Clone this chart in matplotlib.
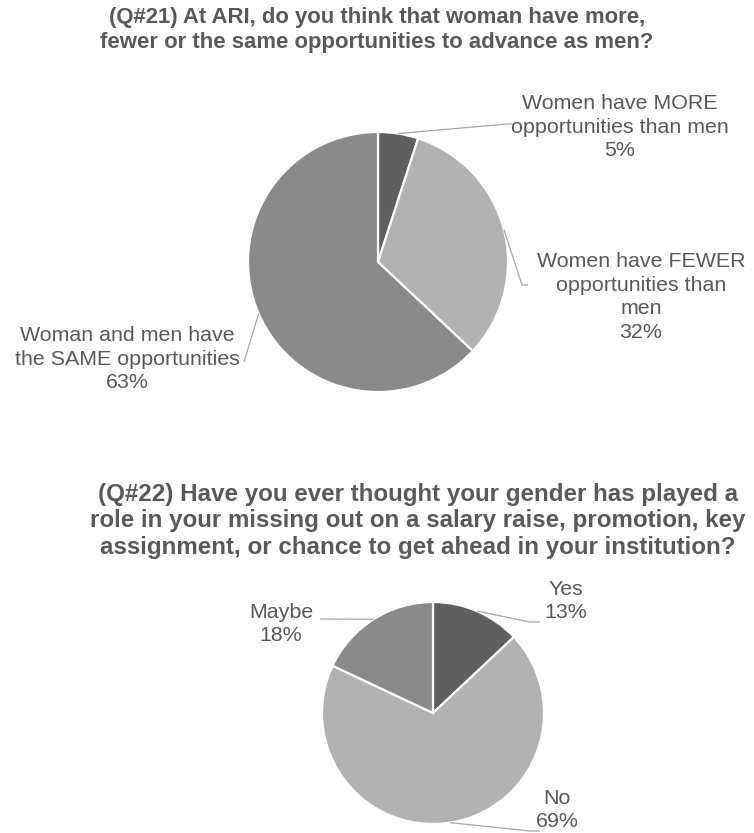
import numpy as np
import matplotlib
matplotlib.use("Agg")
import matplotlib.pyplot as plt

W, H = 754, 833

# Q21: share of answers, drawn clockwise from 12 o'clock
q21_labels = [
    "Women have MORE\nopportunities than men",
    "Women have FEWER\nopportunities than\nmen",
    "Woman and men have\nthe SAME opportunities",
]
q21_values = [5, 32, 63]
q21_colors = ["#5f5f5f", "#b2b2b2", "#8a8a8a"]

# Q22
q22_labels = ["Yes", "No", "Maybe"]
q22_values = [13, 69, 18]
q22_colors = ["#5f5f5f", "#b2b2b2", "#8a8a8a"]

q21_title = ("(Q#21) At ARI, do you think that woman have more,\n"
             "fewer or the same opportunities to advance as men?")
q22_title = ("(Q#22) Have you ever thought your gender has played a\n"
             "role in your missing out on a salary raise, promotion, key\n"
             "assignment, or chance to get ahead in your institution?")

TEXT = "#595959"
LEADER = "#a6a6a6"
FONT = ["Liberation Sans", "DejaVu Sans"]


def py(y):
    # pixel row (from top) -> data y
    return H - y


def edge_point(wedge, center, radius):
    theta = np.deg2rad((wedge.theta1 + wedge.theta2) / 2)
    return center[0] + radius * np.cos(theta), center[1] + radius * np.sin(theta)


def draw_pie(ax, values, colors, center, radius):
    wedges, _ = ax.pie(values, colors=colors, startangle=90, counterclock=False,
                       center=center, radius=radius, frame=True,
                       wedgeprops=dict(edgecolor="white", linewidth=1.6))
    return wedges


def leader(ax, start, *pts):
    xs = [start[0]] + [p[0] for p in pts]
    ys = [start[1]] + [py(p[1]) for p in pts]
    ax.plot(xs, ys, color=LEADER, lw=0.9, solid_capstyle="butt", zorder=1)


def label(ax, x, y, text, pct):
    ax.text(x, py(y), f"{text}\n{pct}%", ha="center", va="center",
            multialignment="center", fontsize=15.4, color=TEXT,
            family=FONT, linespacing=1.3)


fig = plt.figure(figsize=(W / 100, H / 100), dpi=100)
ax = fig.add_axes([0, 0, 1, 1])

# --- Q21 ---
c1, r1 = (378, py(262)), 130
w1 = draw_pie(ax, q21_values, q21_colors, c1, r1)
ax.text(377, py(30), q21_title, ha="center", va="center", fontsize=15.9,
        fontweight="bold", color=TEXT, family=FONT, linespacing=1.22)

leader(ax, edge_point(w1[0], c1, r1), (507, 124), (512, 124))
leader(ax, edge_point(w1[1], c1, r1), (522, 285), (528, 285))
leader(ax, edge_point(w1[2], c1, r1), (244, 362))
label(ax, 620, 127, q21_labels[0], q21_values[0])
label(ax, 641, 297, q21_labels[1], q21_values[1])
label(ax, 127, 359, q21_labels[2], q21_values[2])

# --- Q22 ---
c2, r2 = (433, py(713)), 111
w2 = draw_pie(ax, q22_values, q22_colors, c2, r2)
ax.text(418, py(521), q22_title, ha="center", va="center", fontsize=17.4,
        fontweight="bold", color=TEXT, family=FONT, linespacing=1.22)

leader(ax, edge_point(w2[0], c2, r2), (530, 622), (540, 622))
leader(ax, edge_point(w2[1], c2, r2), (530, 831), (540, 831))
leader(ax, edge_point(w2[2], c2, r2), (320, 619))
label(ax, 566, 601, q22_labels[0], q22_values[0])
label(ax, 557, 810, q22_labels[1], q22_values[1])
label(ax, 281, 624, q22_labels[2], q22_values[2])

ax.set_xlim(0, W)
ax.set_ylim(0, H)
ax.set_aspect("equal")
ax.axis("off")

fig.savefig("out.png", dpi=100, facecolor="white")
